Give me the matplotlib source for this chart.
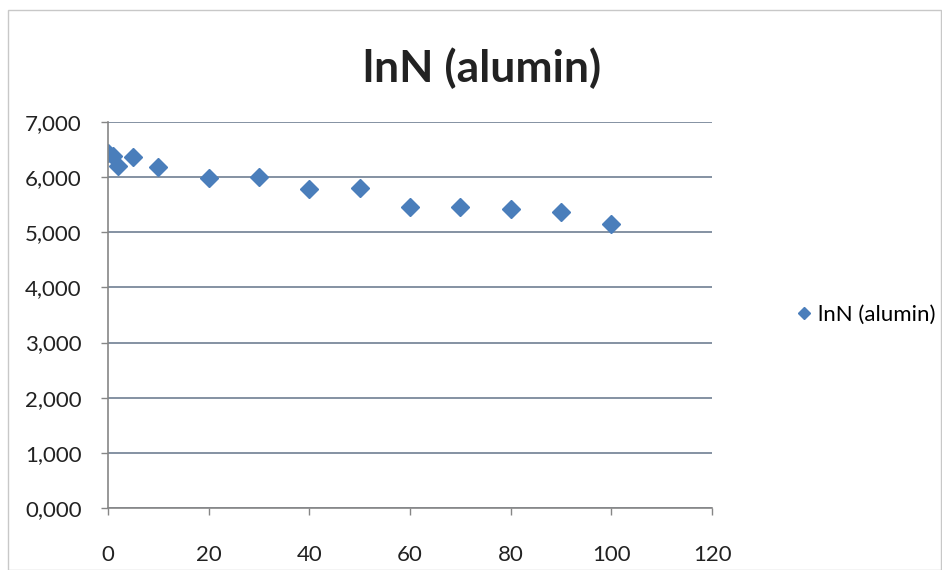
import matplotlib.pyplot as plt
from matplotlib.patches import Rectangle
from matplotlib.ticker import FuncFormatter

plt.rcParams['font.family'] = ['Lato', 'DejaVu Sans']

# time values and lnN readings
x_vals = [0, 1, 2, 5, 10, 20, 30, 40, 50, 60, 70, 80, 90, 100]
lnN = [6.43, 6.38, 6.20, 6.36, 6.19, 5.99, 6.00, 5.78, 5.80, 5.45, 5.46, 5.42, 5.36, 5.15]
series_name = 'lnN (alumin)'
x_ticks = [0, 20, 40, 60, 80, 100, 120]
y_ticks = [0, 1, 2, 3, 4, 5, 6, 7]

fig = plt.figure(figsize=(9.42, 5.7), dpi=100)
ax = fig.add_axes([0.1146, 0.1088, 0.6414, 0.6772])

# light frame around the chart
fig.patches.append(Rectangle((0.009, 0.0), 0.99, 0.982, transform=fig.transFigure,
                             fill=False, edgecolor='#c8c8c8', linewidth=1))

ax.plot(x_vals, lnN, linestyle='none', marker='D', markersize=9,
        color='#4a7ebb', label=series_name)

ax.set_xlim(0, 120)
ax.set_ylim(0, 7)
ax.set_xticks(x_ticks)
ax.set_yticks(y_ticks)
ax.yaxis.set_major_formatter(FuncFormatter(lambda v, p: f'{v:.3f}'.replace('.', ',')))

ax.grid(axis='y', color='#6f7f92', linewidth=1.2)
ax.set_axisbelow(True)
for s in ['top', 'right']:
    ax.spines[s].set_visible(False)
for s in ['left', 'bottom']:
    ax.spines[s].set_color('#868686')
    ax.spines[s].set_linewidth(1.2)

ax.tick_params(axis='both', colors='#868686', labelcolor='#222222', labelsize=16,
               length=5, width=1)
ax.tick_params(axis='x', pad=22)
ax.tick_params(axis='y', pad=14)

fig.text(0.512, 0.88, series_name, ha='center', va='center',
         fontsize=32, fontweight='bold', color='#222222')

ax.legend(loc='center left', bbox_to_anchor=(1.105, 0.5), frameon=False,
          fontsize=16, handletextpad=0.2, handlelength=0.8, markerscale=0.7)

fig.savefig('out.png', dpi=100)
